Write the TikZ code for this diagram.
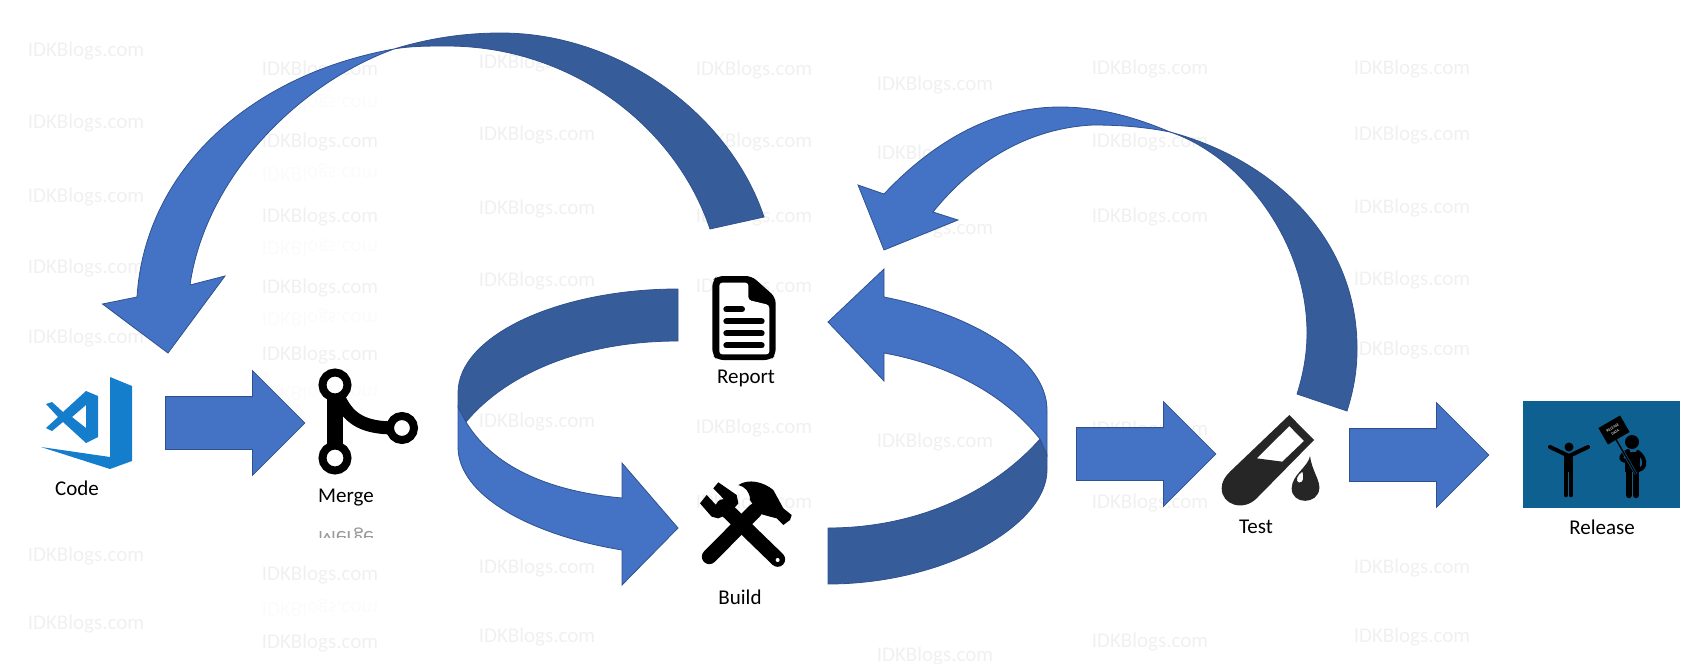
\documentclass[tikz,border=0pt]{standalone}
\usepackage{fontspec}
\setmainfont{Carlito}
\usetikzlibrary{shapes.arrows}
\definecolor{bandlight}{HTML}{4472C4}
\definecolor{banddark}{HTML}{365C99}
\definecolor{bandedge}{HTML}{2F528F}
\definecolor{vscode}{HTML}{147ECD}
\definecolor{releasebg}{HTML}{0E6091}
\tikzset{
lbl/.style={font=\fontsize{21}{25}\selectfont,inner sep=0pt},
wmark/.style={font=\fontsize{21}{25}\selectfont,text=black!6,inner sep=0pt},
wflip/.style={font=\fontsize{21}{25}\selectfont,text=black!1.5,inner sep=0pt,yscale=-1},
blockarrow/.style={shape=single arrow,draw=bandedge,fill=bandlight,line width=0.8pt,anchor=tail,
  minimum height=139.5pt,minimum width=104pt,single arrow head extend=26pt,inner xsep=0pt,inner ysep=26pt},
lightband/.style={draw=bandedge,fill=bandlight,line width=0.8pt,line join=miter},
darkband/.style={draw=bandedge,fill=banddark,line width=0.8pt}
}

\begin{document}
\begin{tikzpicture}[x=1pt,y=-1pt]
\useasboundingbox (0,0) rectangle (1698,664);

\foreach \wx/\wys in {86/{51,123,197,268,338,556,624},320/{70,142,217,288,355,575,643},
537/{63,135,209,281,422,568,637},754/{70,142,217,287,428,503},935/{85,154,229,442,656},
1150/{69,142,217,430,503,642},1412/{69,135,208,280,350,568,637}}
  \foreach \wy in \wys
    \node[wmark] at (\wx,\wy) {IDKBlogs.com};
\foreach \wy in {103,173,247,318,392,608}
  \node[wflip] at (320,\wy) {IDKBlogs.com};

\node[blockarrow](codeArrow) at (165,423){};
\node[blockarrow](testArrow) at (1076,454){};
\node[blockarrow](releaseArrow) at (1349,455){};

\draw[darkband] (394,49) .. controls (430,38) and (465,33) .. (501,33)
  .. controls (620,33) and (730,115) .. (764,217) -- (710,229)
  .. controls (675,125) and (570,46) .. (447,46)
  .. controls (430,46) and (410,46) .. (394,49) -- cycle;
\draw[lightband] (394,49) .. controls (250,75) and (145,170) .. (137,297)
  -- (102.5,304) -- (168,353) -- (225,276) -- (190,285)
  .. controls (205,180) and (295,85) .. (394,49) -- cycle;

\draw[darkband] (678,289) .. controls (560,289) and (458,335) .. (458,393)
  -- (458,407) -- (466,422)
  .. controls (505,375) and (580,341) .. (678,341) -- cycle;
\draw[lightband] (458,407) -- (458,447)
  .. controls (458,495) and (530,535) .. (622,550)
  -- (622,585) -- (678,528) -- (622,463) -- (622,498)
  .. controls (555,492) and (495,470) .. (466,422) -- cycle;

\draw[darkband] (828,584) .. controls (945,584) and (1047,525) .. (1047,470)
  -- (1047,455) -- (1040,439)
  .. controls (995,490) and (920,528) .. (828,528) -- cycle;
\draw[lightband] (1047,455) -- (1047,410)
  .. controls (1047,360) and (975,315) .. (884,297)
  -- (884,269) -- (828,322) -- (884,381) -- (884,353)
  .. controls (950,365) and (1005,395) .. (1040,439) -- cycle;

\draw[darkband] (1170,132) .. controls (1275,160) and (1358,240) .. (1357,350)
  .. controls (1357,372) and (1353,392) .. (1347,411) -- (1297,394)
  .. controls (1303,375) and (1307,355) .. (1307,333)
  .. controls (1307,240) and (1240,155) .. (1170,132) -- cycle;
\draw[lightband] (1170,132) .. controls (1130,115) and (1095,107) .. (1060,107)
  .. controls (990,107) and (930,145) .. (884,194)
  -- (858,185) -- (884,250) -- (958,220) -- (933,212)
  .. controls (975,160) and (1030,128) .. (1093,125)
  .. controls (1120,125) and (1145,127) .. (1170,132) -- cycle;

\fill[vscode] (110,377) -- (132,386) -- (132,461) -- (110,469) -- (41,447) -- (110,457) -- cycle;
\fill[vscode,even odd rule] (46,404) -- (52,402) -- (63,412) -- (86,391) -- (98,396) -- (98,437) -- (86,443)
  -- (63,422) -- (52,431) -- (46,428) -- (58,417) -- cycle
  (86,405) -- (72,417) -- (86,428) -- cycle;
\node[lbl](codeLabel) at (77,488){Code};

\draw[line width=16pt] (335,385) -- (335,458);
\draw[line width=13pt] (340,400) .. controls (350,420) and (365,428) .. (395,428);
\draw[line width=8pt,fill=white] (335,385) circle (12.5);
\draw[line width=8pt,fill=white] (335,458) circle (12.5);
\draw[line width=8pt,fill=white] (402,428) circle (12);
\node[lbl](mergeLabel) at (346,498){Merge};
\begin{scope}
\clip (300,526) rectangle (390,537);
\node[lbl,yscale=-1,text=black!40](mergeFlip) at (346,536){Merge};
\end{scope}

\begin{scope}[shift={(680,260)},scale=1/3]
\fill[rounded corners=6pt] (97,62) -- (112,48) -- (215,48) -- (287,112) -- (287,285) -- (272,300) -- (112,300) -- (97,285) -- cycle;
\fill[white,rounded corners=3pt] (118,68) -- (205,68) -- (205,120) -- (268,135) -- (268,283) -- (118,283) -- cycle;
\draw[line width=6pt,line cap=round] (139,148) -- (186,148);
\foreach \ry in {184,220,256}
  \draw[line width=6pt,line cap=round] (139,\ry) -- (245,\ry);
\end{scope}
\node[lbl](reportLabel) at (746,378){Report};

\begin{scope}[shift={(680,260)},scale=1/3]
\draw[line width=15pt,line cap=round] (130,740) -- (293,898);
\fill[white] (293,900) circle (6);
\fill (115,667) -- (170,705) -- (175,730) -- (150,760) -- (115,775) -- (95,770) -- (60,730) -- (80,705) -- (108,735) -- (132,718) -- (100,685) -- cycle;
\draw[line width=15pt,line cap=round] (88,890) -- (225,752);
\fill (175,675) .. controls (205,655) and (250,665) .. (280,690) -- (310,745) -- (335,765) -- (330,780) -- (310,795) -- (290,775) -- (270,770) -- (235,760) -- (210,720) .. controls (210,695) and (195,680) .. (175,675) -- cycle;
\end{scope}
\node[lbl](buildLabel) at (740,597){Build};

\begin{scope}[shift={(1100,360)},scale=1/3]
\fill[black!85,even odd rule] (568,165) -- (642,240) -- (470,415) .. controls (430,455) and (365,435) .. (365,385)
  .. controls (365,365) and (375,350) .. (390,335) -- cycle
  (568,198) -- (612,243) -- (547,305) -- (470,295) -- cycle;
\fill[black!85,even odd rule] (630,288) .. controls (635,330) and (660,360) .. (658,385) .. controls (655,435) and (575,435) .. (575,385)
  .. controls (575,345) and (625,320) .. (630,288) -- cycle
  (607,335) .. controls (612,350) and (612,368) .. (597,368) .. controls (585,365) and (590,345) .. (607,335) -- cycle;
\end{scope}
\node[lbl](testLabel) at (1256,527){Test};

\fill[releasebg] (1523,401) rectangle (1680,508);
\fill (1569,447) circle (4.5);
\draw[line width=4pt,line cap=round,line join=round] (1550,447) -- (1569,456) -- (1588,447);
\draw[line width=9.5pt] (1568.5,456) -- (1568.5,472);
\draw[line width=4.6pt,line cap=round] (1566,470) -- (1566,495);
\draw[line width=4.6pt,line cap=round] (1571,470) -- (1571,495);
\fill (1632,442) circle (7);
\draw[line width=15pt] (1632.5,452) -- (1632.5,472);
\draw[line width=6.5pt,line cap=round] (1629,470) -- (1629,495);
\draw[line width=6.5pt,line cap=round] (1636,470) -- (1636,495);
\draw[line width=4pt,line cap=round] (1628,451) .. controls (1618,456) and (1620,462) .. (1630,461);
\draw[line width=4pt,line cap=round] (1638,452) .. controls (1648,460) and (1646,472) .. (1633,470);
\draw[releasebg,line width=2.6pt] (1614,436) -- (1636,474);
\draw[line width=1.4pt] (1614,436) -- (1636,474);
\node[fill=black,text=white,rotate=30,minimum width=25pt,minimum height=19pt,inner sep=0pt,align=center,
  font=\fontsize{4}{5}\selectfont](releaseSign) at (1614,430){RELEASE\\DATA};
\node[lbl](releaseLabel) at (1602,527){Release};
\end{tikzpicture}
\end{document}
